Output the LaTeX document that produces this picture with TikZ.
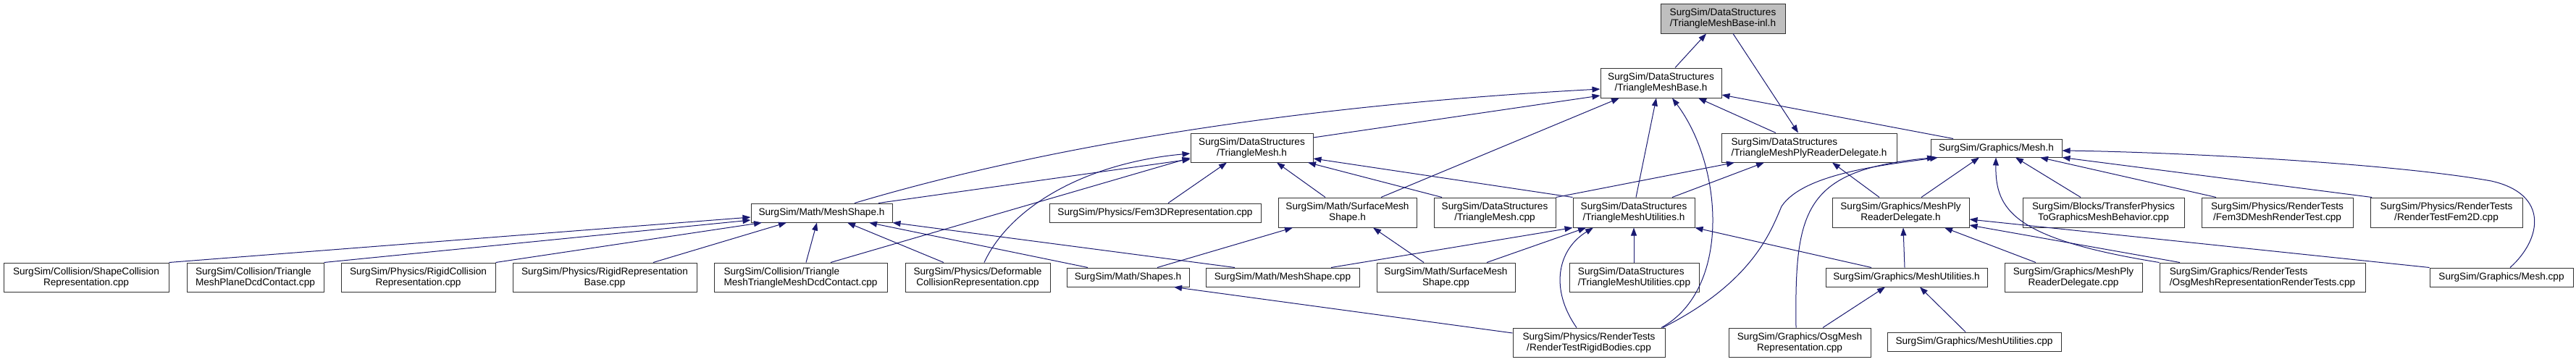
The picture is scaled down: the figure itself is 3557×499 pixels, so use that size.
\documentclass[tikz,border=0pt]{standalone}
\usepackage{fontspec}
\setmainfont{Liberation Sans}
\usetikzlibrary{arrows.meta}
\definecolor{edgeblue}{HTML}{191970}
\definecolor{nodegray}{HTML}{BFBFBF}
\newcommand\mkn[7]{\node[#1, minimum width=#5pt, minimum height=#6pt] (#2) at (#3,#4) {#7};}
\begin{document}
\begin{tikzpicture}[x=1pt,y=-1pt,
  box/.style={draw=black!80, line width=1pt, fill=white, rectangle, inner sep=0pt, align=center, font=\fontsize{13.6}{15}\selectfont},
  lbox/.style={box, align=left},
  root/.style={box, fill=nodegray},
  edge/.style={draw=edgeblue, line width=1pt, -{Triangle[length=11pt,width=8pt]}}]
\useasboundingbox (0,0) rectangle (3557,499);
% nodes
\mkn{root}{n0}{2379}{25.5}{172}{41}{SurgSim/DataStructures\\/TriangleMeshBase-inl.h}
\mkn{box}{n1}{2293.5}{114.5}{167}{41}{SurgSim/DataStructures\\/TriangleMeshBase.h}
\mkn{box}{n2}{1728.5}{204}{169}{40}{SurgSim/DataStructures\\/TriangleMesh.h}
\mkn{lbox}{n3}{2498}{204}{242}{40}{SurgSim/DataStructures\\/TriangleMeshPlyReaderDelegate.h}
\mkn{box}{n4}{2756.5}{204.5}{181}{25}{SurgSim/Graphics/Mesh.h}
\mkn{box}{n5}{1134.5}{294}{195}{26}{SurgSim/Math/MeshShape.h}
\mkn{box}{n6}{1595}{294}{292}{26}{SurgSim/Physics/Fem3DRepresentation.cpp}
\mkn{box}{n7}{1860.5}{293.5}{191}{41}{SurgSim/Math/SurfaceMesh\\Shape.h}
\mkn{box}{n8}{2064}{293.5}{168}{41}{SurgSim/DataStructures\\/TriangleMesh.cpp}
\mkn{box}{n9}{2256}{293.5}{168}{41}{SurgSim/DataStructures\\/TriangleMeshUtilities.h}
\mkn{box}{n10}{2624.5}{293.5}{189}{41}{SurgSim/Graphics/MeshPly\\ReaderDelegate.h}
\mkn{box}{n11}{2904.5}{293.5}{223}{41}{SurgSim/Blocks/TransferPhysics\\ToGraphicsMeshBehavior.cpp}
\mkn{box}{n12}{3144.5}{293.5}{209}{41}{SurgSim/Physics/RenderTests\\/Fem3DMeshRenderTest.cpp}
\mkn{box}{n13}{3378}{293.5}{210}{41}{SurgSim/Physics/RenderTests\\/RenderTestFem2D.cpp}
\mkn{box}{n14}{119}{383}{228}{40}{SurgSim/Collision/ShapeCollision\\Representation.cpp}
\mkn{lbox}{n15}{352.5}{383}{189}{40}{SurgSim/Collision/Triangle\\MeshPlaneDcdContact.cpp}
\mkn{box}{n16}{577.5}{383}{213}{40}{SurgSim/Physics/RigidCollision\\Representation.cpp}
\mkn{box}{n17}{835}{383}{254}{40}{SurgSim/Physics/RigidRepresentation\\Base.cpp}
\mkn{lbox}{n18}{1105.5}{383}{239}{40}{SurgSim/Collision/Triangle\\MeshTriangleMeshDcdContact.cpp}
\mkn{box}{n19}{1350}{383}{200}{40}{SurgSim/Physics/Deformable\\CollisionRepresentation.cpp}
\mkn{box}{n20}{1557.5}{383}{169}{26}{SurgSim/Math/Shapes.h}
\mkn{box}{n21}{1771}{383}{212}{26}{SurgSim/Math/MeshShape.cpp}
\mkn{box}{n22}{1996.5}{383}{191}{40}{SurgSim/Math/SurfaceMesh\\Shape.cpp}
\mkn{lbox}{n23}{2256.5}{383}{179}{40}{SurgSim/DataStructures\\/TriangleMeshUtilities.cpp}
\mkn{box}{n24}{2632.5}{383}{223}{26}{SurgSim/Graphics/MeshUtilities.h}
\mkn{box}{n25}{2863}{383}{190}{40}{SurgSim/Graphics/MeshPly\\ReaderDelegate.cpp}
\mkn{lbox}{n26}{3124}{383}{284}{40}{SurgSim/Graphics/RenderTests\\/OsgMeshRepresentationRenderTests.cpp}
\mkn{box}{n27}{3454}{383}{198}{26}{SurgSim/Graphics/Mesh.cpp}
\mkn{box}{n28}{2194}{473}{210}{40}{SurgSim/Physics/RenderTests\\/RenderTestRigidBodies.cpp}
\mkn{box}{n29}{2485}{473}{196}{40}{SurgSim/Graphics/OsgMesh\\Representation.cpp}
\mkn{box}{n30}{2726}{472}{240}{26}{SurgSim/Graphics/MeshUtilities.cpp}
% edges
\draw[edge] (n1.north -| 2313,0) -- (n0.south -| 2356,0);
\draw[edge] (n0.south -| 2393,0) -- (n3.north -| 2483,0);
\draw[edge] (n2.east |- 0,190) -- (n1.west |- 0,132);
\draw[edge] (n5.north -| 1180,0) .. controls (1450,200) and (1800,145) .. (n1.west |- 0,123);
\draw[edge] (n7.north -| 1907,0) -- (n1.south -| 2236,0);
\draw[edge] (n9.north -| 2259,0) -- (n1.south -| 2287,0);
\draw[edge] (n28.north -| 2294,0) .. controls (2390,400) and (2380,230) .. (n1.south -| 2309,0);
\draw[edge] (n3.north -| 2452,0) -- (n1.south -| 2345,0);
\draw[edge] (n4.north -| 2697,0) -- (n1.east |- 0,131);
\draw[edge] (n5.north -| 1213,0) -- (n2.west |- 0,220);
\draw[edge] (n18.north -| 1147,0) -- (n2.west |- 0,218);
\draw[edge] (n19.north -| 1359,0) .. controls (1395,285) and (1500,225) .. (n2.west |- 0,212);
\draw[edge] (n6.north -| 1613,0) -- (n2.south -| 1694,0);
\draw[edge] (n7.north -| 1830,0) -- (n2.south -| 1763,0);
\draw[edge] (n8.north -| 1991,0) -- (n2.south -| 1806,0);
\draw[edge] (n9.north west) -- (n2.east |- 0,219);
\draw[edge] (n8.north east) -- (n3.south -| 2395,0);
\draw[edge] (n9.north -| 2309,0) -- (n3.south -| 2436,0);
\draw[edge] (n10.north -| 2595,0) -- (n3.south -| 2530,0);
\draw[edge] (n10.north -| 2653,0) -- (n4.south -| 2733,0);
\draw[edge] (n11.north -| 2873,0) -- (n4.south -| 2783,0);
\draw[edge] (n12.north -| 3060,0) -- (n4.south -| 2817,0);
\draw[edge] (n13.north -| 3275,0) -- (n4.south east);
\draw[edge] (n27.north -| 3466,0) .. controls (3510,330) and (3520,268) .. (3440,250) .. controls (3300,225) and (3000,210) .. (n4.east |- 0,208);
\draw[edge] (n26.north west) .. controls (2780,330) and (2755,290) .. (n4.south -| 2756,0);
\draw[edge] (n28.north -| 2296,0) .. controls (2420,390) and (2445,320) .. (2460,285) .. controls (2490,240) and (2600,228) .. (n4.south -| 2676,0);
\draw[edge] (n29.north -| 2480,0) .. controls (2478,290) and (2490,235) .. (n4.south -| 2672,0);
\draw[edge] (n24.north -| 2630,0) -- (n10.south -| 2628,0);
\draw[edge] (n25.north -| 2811,0) -- (n10.south -| 2685,0);
\draw[edge] (n26.north -| 3010,0) -- (n10.east |- 0,311);
\draw[edge] (n27.north west) -- (n10.east |- 0,303);
\draw[edge] (n21.north -| 1838,0) -- (n9.south west);
\draw[edge] (n22.north -| 2053,0) -- (n9.south -| 2190,0);
\draw[edge] (n28.north -| 2177,0) .. controls (2140,400) and (2150,345) .. (n9.south -| 2200,0);
\draw[edge] (n23.north -| 2256,0) -- (n9.south -| 2256,0);
\draw[edge] (n24.north -| 2584,0) -- (n9.south east);
\draw[edge] (n22.north -| 1966,0) -- (n7.south -| 1896,0);
\draw[edge] (n20.north -| 1598,0) -- (n7.south -| 1785,0);
\draw[edge] (n14.north east) -- (n5.west |- 0,300);
\draw[edge] (n15.north east) -- (n5.west |- 0,304);
\draw[edge] (n16.north east) -- (n5.south -| 1052,0);
\draw[edge] (n17.north -| 902,0) -- (n5.south -| 1086,0);
\draw[edge] (n18.north -| 1113,0) -- (n5.south -| 1128,0);
\draw[edge] (n19.north -| 1303,0) -- (n5.south -| 1170,0);
\draw[edge] (n20.north -| 1502,0) -- (n5.south -| 1200,0);
\draw[edge] (n21.north -| 1705,0) -- (n5.south east);
\draw[edge] (n28.west |- 0,460) -- (n20.south -| 1621,0);
\draw[edge] (n29.north -| 2517,0) -- (n24.south -| 2603,0);
\draw[edge] (n30.north -| 2714,0) -- (n24.south -| 2651,0);
\end{tikzpicture}
\end{document}
